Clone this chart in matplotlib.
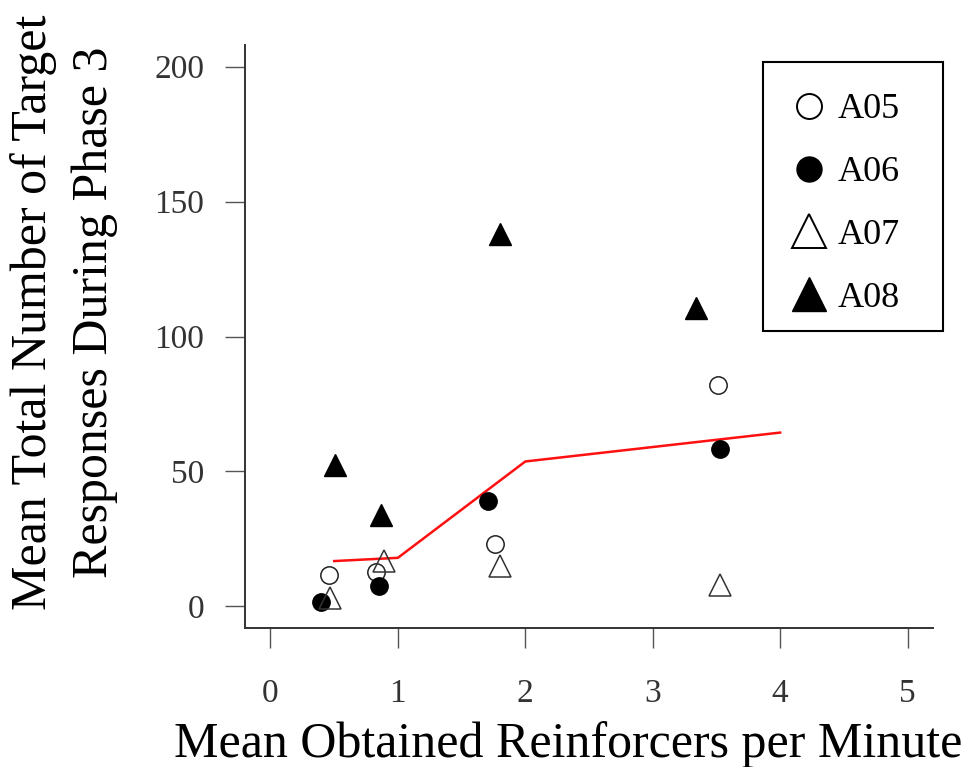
import numpy as np
import matplotlib
matplotlib.use("Agg")
import matplotlib.pyplot as plt
from matplotlib.lines import Line2D
from matplotlib.patches import Rectangle

plt.rcParams['font.family'] = ['Liberation Serif', 'DejaVu Serif']

# data
a05_x = [0.46, 0.83, 1.76, 3.51]
a05_y = [11.5, 12.7, 23.3, 82.0]
a06_x = [0.40, 0.85, 1.71, 3.53]
a06_y = [1.6, 7.5, 39.2, 58.3]
a07_x = [0.47, 0.89, 1.80, 3.53]
a07_y = [3.0, 16.7, 14.9, 7.8]
a08_x = [0.51, 0.87, 1.80, 3.34]
a08_y = [52.5, 34.0, 138.0, 110.4]
fit_x = [0.5, 1.0, 2.0, 4.0]
fit_y = [16.8, 18.0, 53.7, 64.4]

labels = ['A05', 'A06', 'A07', 'A08']
xticks = [0, 1, 2, 3, 4, 5]
yticks = [0, 50, 100, 150, 200]

W, H = 977, 767
fig = plt.figure(figsize=(W / 100, H / 100), dpi=100)
ax = fig.add_axes([245 / W, 1 - 628 / H, 688 / W, 583 / H])
ax.set_xlim(-0.2, 5.2)
ax.set_ylim(-8, 208)

ax.plot(fit_x, fit_y, color='#ff1010', lw=1.8, zorder=2)

ax.plot(a05_x, a05_y, 'o', ms=12.5, mfc='white', mec='#222222', mew=1.1, ls='none', zorder=3)
ax.plot(a06_x, a06_y, 'o', ms=12.5, mfc='black', mec='black', mew=1.0, ls='none', zorder=3)
ax.plot(a07_x, a07_y, '^', ms=16.5, mfc='none', mec='#333333', mew=1.1, ls='none', zorder=3)
ax.plot(a08_x, a08_y, '^', ms=16.5, mfc='black', mec='black', mew=1.0, ls='none', zorder=3)

for s in ['top', 'right']:
    ax.spines[s].set_visible(False)
for s in ['left', 'bottom']:
    ax.spines[s].set_color('#333333')
    ax.spines[s].set_linewidth(1.4)

ax.set_xticks(xticks)
ax.set_yticks(yticks)
ax.tick_params(axis='both', direction='out', length=14.5, width=1.0, color='#555555',
               labelsize=24, labelcolor='#333333')
ax.tick_params(axis='x', pad=22)
ax.tick_params(axis='y', pad=15)

# legend: entries without frame, frame drawn as its own box
handles = [
    Line2D([], [], marker='o', ls='none', ms=18, mfc='white', mec='black', mew=1.4),
    Line2D([], [], marker='o', ls='none', ms=18, mfc='black', mec='black'),
    Line2D([], [], marker='^', ms=24, ls='none', mfc='white', mec='black', mew=1.4),
    Line2D([], [], marker='^', ms=24, ls='none', mfc='black', mec='black'),
]
leg = ax.legend(handles, labels, loc='upper left',
                bbox_to_anchor=(791 / W, 1 - 93 / H), bbox_transform=fig.transFigure,
                borderaxespad=0, borderpad=0, frameon=False, fontsize=26,
                labelspacing=0.82, handletextpad=0.3, handlelength=1.0)
fig.add_artist(Rectangle((763 / W, 1 - 331 / H), 180 / W, 269 / H, fill=False,
                         ec='black', lw=1.5, transform=fig.transFigure))

fig.text(568 / W, 1 - 757 / H, 'Mean Obtained Reinforcers per Minute',
         fontsize=36, ha='center', va='baseline')
fig.text(46 / W, 1 - 312 / H, 'Mean Total Number of Target', fontsize=36,
         rotation=90, rotation_mode='anchor', ha='center', va='baseline')
fig.text(107 / W, 1 - 312 / H, 'Responses During Phase 3', fontsize=36,
         rotation=90, rotation_mode='anchor', ha='center', va='baseline')

fig.savefig('out.png', dpi=100)
